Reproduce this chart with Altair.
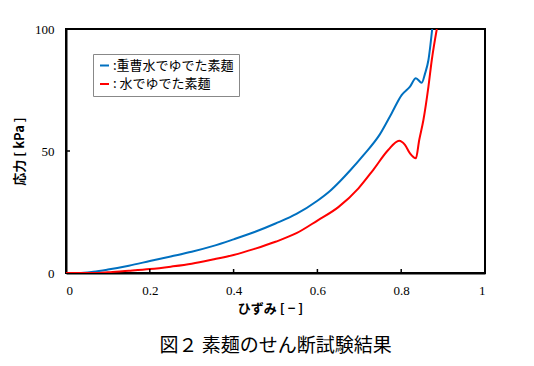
import altair as alt
import pandas as pd

# Blue series: 重曹水でゆでた素麺
blue_x = [0, 0.03, 0.065, 0.1, 0.15, 0.2, 0.25, 0.3, 0.35, 0.4, 0.45, 0.5, 0.55, 0.6,
          0.63, 0.654, 0.678, 0.71, 0.749, 0.777, 0.801, 0.821, 0.835, 0.849, 0.857,
          0.865, 0.874]
blue_y = [0, 0, 0.5, 1.4, 3.0, 4.9, 6.8, 8.7, 11.0, 13.8, 16.8, 20.3, 24.2, 29.6,
          33.6, 37.6, 42.0, 48.3, 56.8, 65.4, 72.9, 76.4, 79.8, 78.0, 81.8,
          87.3, 100]
# Red series: 水でゆでた素麺
red_x = [0, 0.08, 0.1, 0.15, 0.2, 0.25, 0.3, 0.35, 0.4, 0.45, 0.5, 0.55, 0.6, 0.65,
         0.698, 0.733, 0.769, 0.795, 0.809, 0.821, 0.835, 0.843, 0.853, 0.865, 0.873,
         0.885]
red_y = [0, 0, 0.3, 0.9, 1.6, 2.6, 3.8, 5.5, 7.4, 9.9, 12.8, 16.3, 21.5, 27.0,
         34.7, 42.2, 50.4, 54.2, 52.5, 49.0, 47.0, 54.5, 62.7, 76.4, 87.3,
         100]

series_names = [":重曹水でゆでた素麺", ": 水でゆでた素麺"]
series_colors = ["#0070C0", "#FF0000"]

x_tick_values = [0, 0.2, 0.4, 0.6, 0.8, 1]
y_tick_values = [0, 50, 100]
x_inner_ticks = [0.2, 0.4, 0.6, 0.8]
y_inner_ticks = [50]

rows = []
for i, (xs, ys) in enumerate([(blue_x, blue_y), (red_x, red_y)]):
    for j, (a, b) in enumerate(zip(xs, ys)):
        rows.append({"strain": a, "stress": b, "series": series_names[i], "order": j})
df = pd.DataFrame(rows)

W, H = 419, 244
JP = "Noto Sans CJK JP"
SERIF = "Liberation Serif, Times New Roman, serif"

xscale = alt.Scale(domain=[0, 1], nice=False, zero=False)
yscale = alt.Scale(domain=[0, 100], nice=False)

lines = alt.Chart(df).mark_line(strokeWidth=2, clip=True, interpolate="monotone").encode(
    x=alt.X("strain:Q", scale=xscale,
            axis=alt.Axis(values=x_tick_values, format="~g", title="ひずみ [ − ]",
                          titleX=204, labelFont=SERIF, labelFontSize=13,
                          labelPadding=11, titlePadding=5)),
    y=alt.Y("stress:Q", scale=yscale,
            axis=alt.Axis(values=y_tick_values, title="応力 [ kPa ]",
                          labelFont=SERIF, labelFontSize=13,
                          labelPadding=12, titlePadding=8)),
    color=alt.Color("series:N",
                    scale=alt.Scale(domain=series_names, range=series_colors),
                    legend=alt.Legend(title=None, orient="none", legendX=27, legendY=25,
                                      symbolType="stroke", symbolSize=81,
                                      symbolStrokeWidth=2, labelFont=JP,
                                      labelFontSize=13, labelColor="black",
                                      strokeColor="#888888", padding=5,
                                      rowPadding=4.5, labelOffset=2,
                                      fillColor="white")),
    order="order:Q",
)

xt = alt.Chart(pd.DataFrame({"v": x_inner_ticks})).mark_rule(color="black", strokeWidth=1.5).encode(
    x=alt.X("v:Q", scale=xscale),
    y=alt.value(H), y2=alt.value(H - 4),
)
yt = alt.Chart(pd.DataFrame({"v": y_inner_ticks})).mark_rule(color="black", strokeWidth=1.5).encode(
    y=alt.Y("v:Q", scale=yscale),
    x=alt.value(0), x2=alt.value(4),
)

chart = alt.layer(lines, xt, yt).properties(
    width=W, height=H,
    autosize=alt.AutoSizeParams(type="none"),
    padding={"left": 58, "top": 21, "right": 41, "bottom": 85},
    title=alt.TitleParams(text="図２ 素麺のせん断試験結果", orient="bottom",
                          font=JP, fontSize=19, fontWeight="normal",
                          color="black", offset=22, anchor="middle"),
).configure_view(
    stroke="black", strokeWidth=2
).configure_axis(
    grid=False, ticks=False,
    domainColor="black", domainWidth=2,
    labelColor="black",
    titleFont=JP, titleFontSize=13, titleFontWeight="bold", titleColor="black",
)

chart.save("out.html", embed_options={"renderer": "svg", "actions": False})
